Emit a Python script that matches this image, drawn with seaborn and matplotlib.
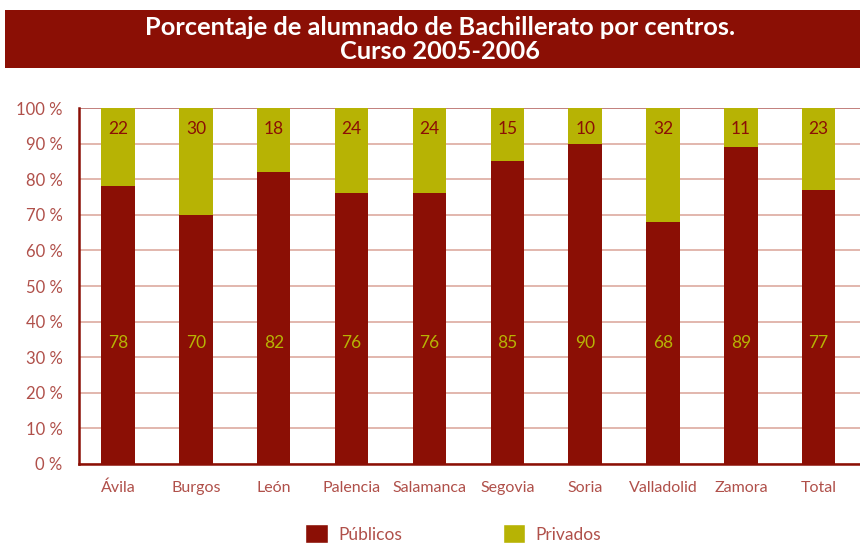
import numpy as np
import pandas as pd
import matplotlib; matplotlib.use("Agg")
import matplotlib.pyplot as plt
import seaborn as sns
from matplotlib.patches import Rectangle, Patch

provincias = ["Ávila", "Burgos", "León", "Palencia", "Salamanca",
              "Segovia", "Soria", "Valladolid", "Zamora", "Total"]
publicos = [78, 70, 82, 76, 76, 85, 90, 68, 89, 77]
privados = [22, 30, 18, 24, 24, 15, 10, 32, 11, 23]
y_ticks = [0, 10, 20, 30, 40, 50, 60, 70, 80, 90, 100]

ROJO = "#8B0F05"
OLIVA = "#B7B304"
TXT = "#B0504A"
GRID = "#DDAA9F"

sns.set_theme(style="white")
plt.rcParams["font.family"] = ["Lato", "DejaVu Sans"]

df = pd.DataFrame({"provincia": provincias, "publicos": publicos, "privados": privados})
df["total"] = df["publicos"] + df["privados"]

fig = plt.figure(figsize=(8.6, 5.43), dpi=100)
ax = fig.add_axes([0.092, 0.1455, 0.908, 0.6555])

for v in y_ticks:
    ax.axhline(v, color="#B86A66" if v == 100 else GRID, linewidth=1.2, zorder=0)

sns.barplot(data=df, x="provincia", y="total", color=OLIVA, width=0.43,
            saturation=1, edgecolor="none", ax=ax, zorder=2)
sns.barplot(data=df, x="provincia", y="publicos", color=ROJO, width=0.43,
            saturation=1, edgecolor="none", ax=ax, zorder=3)

for i, (pu, pr) in enumerate(zip(publicos, privados)):
    ax.text(i, 34, f"{pu}", ha="center", va="center", fontsize=12.5, color=OLIVA, zorder=4)
    ax.text(i, 94, f"{pr}", ha="center", va="center", fontsize=12.5, color=ROJO, zorder=4)

ax.set_xlim(-0.5, len(provincias) - 0.5 + 0.03)
ax.set_ylim(0, 100)
ax.set_yticks(y_ticks)
ax.set_yticklabels([f"{v} %" for v in y_ticks], fontsize=12, color=TXT)
ax.set_xticks(np.arange(len(provincias)))
ax.set_xticklabels(provincias, fontsize=11.5, color=TXT)
ax.set_xticks(np.arange(len(provincias)) - 0.5, minor=True)
ax.tick_params(axis="x", which="major", length=0, pad=12)
ax.tick_params(axis="x", which="minor", length=6, width=1.2, color=ROJO)
ax.tick_params(axis="y", length=6, width=1.2, color=ROJO, pad=6)
ax.set_xlabel("")
ax.set_ylabel("")
for s in ["top", "right"]:
    ax.spines[s].set_visible(False)
for s in ["left", "bottom"]:
    ax.spines[s].set_color(ROJO)
    ax.spines[s].set_linewidth(1.8)

# title banner
fig.patches.append(Rectangle((5 / 860, 1 - 68 / 543), 855 / 860, 58 / 543,
                             transform=fig.transFigure, facecolor=ROJO,
                             edgecolor="none", zorder=0))
fig.text(440 / 860, 1 - 39.5 / 543,
         "Porcentaje de alumnado de Bachillerato por centros.\nCurso 2005-2006",
         ha="center", va="center", color="white", fontsize=18.3,
         fontweight="bold", linespacing=1.05)

handles = [Patch(facecolor=ROJO, label="Públicos"),
           Patch(facecolor=OLIVA, label="Privados")]
leg = fig.legend(handles=handles, loc="center", bbox_to_anchor=(0.527, 0.017),
                 ncol=2, frameon=False, fontsize=12.5, handlelength=1.3,
                 handleheight=1.3, columnspacing=5.8, handletextpad=0.6)
for t in leg.get_texts():
    t.set_color(TXT)

plt.savefig("out.png", dpi=100)
